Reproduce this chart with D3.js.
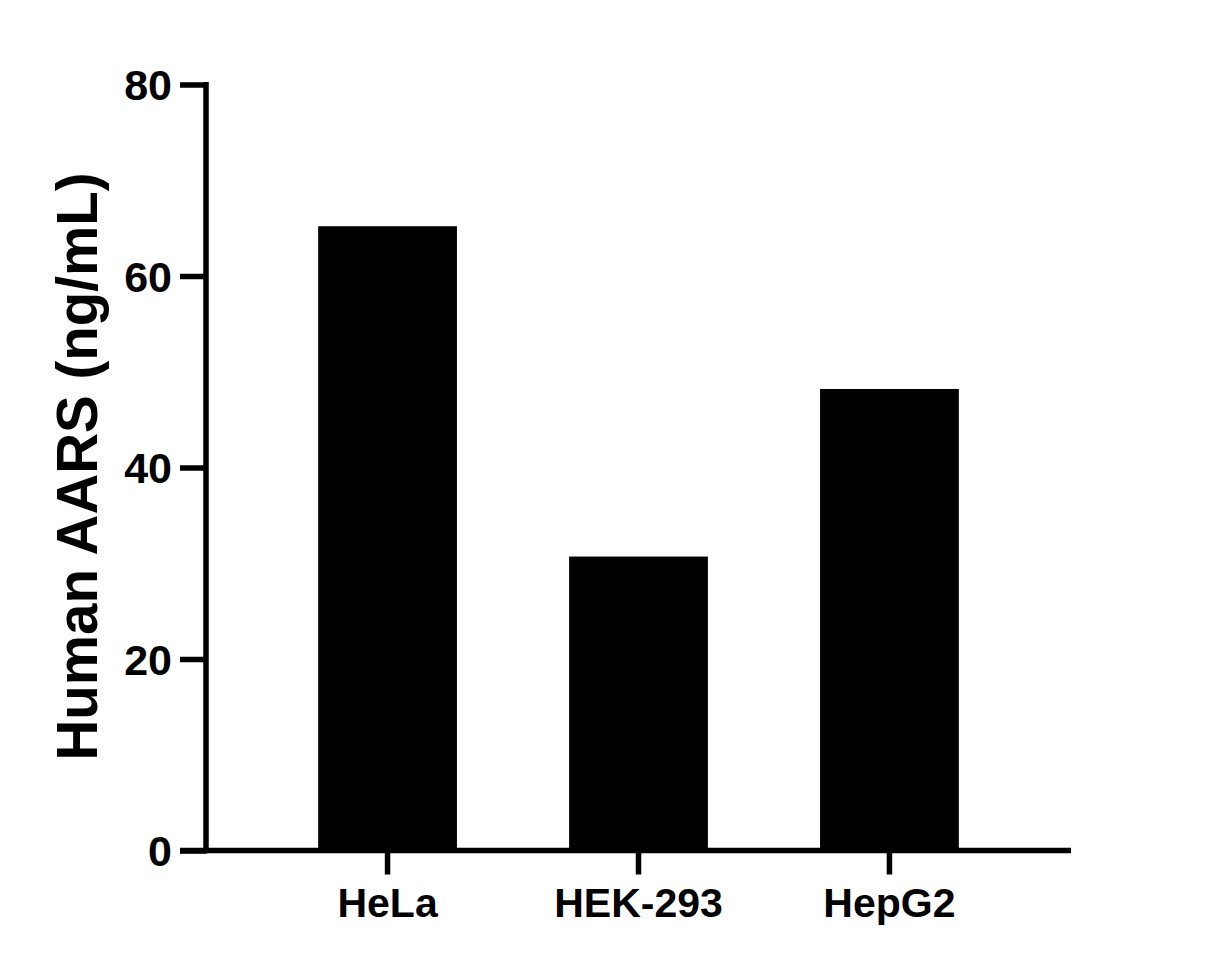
<!DOCTYPE html>
<html>
<head>
<meta charset="utf-8">
<script src="https://cdn.jsdelivr.net/npm/d3@7"></script>
<style>
  body { margin: 0; background: #fff; }
  text { font-family: Arial, "Liberation Sans", sans-serif; font-weight: bold; fill: #000; }
</style>
</head>
<body>
<div id="chart"></div>
<script>
'use strict';

var categories = ['HeLa', 'HEK-293', 'HepG2'];
var values = [65.2, 30.7, 48.2];
var yTicks = [0, 20, 40, 60, 80];

var width = 1208, height = 968;
var plotLeft = 206, plotRight = 1071, plotTop = 84.5, plotBottom = 850.5;

var svg = d3.select('#chart').append('svg')
    .attr('width', width)
    .attr('height', height);

var x = d3.scaleBand()
    .domain(categories)
    .range([plotLeft, plotRight])
    .padding(0.447);

var y = d3.scaleLinear()
    .domain([0, 80])
    .range([plotBottom, plotTop]);

//bars
svg.append('g')
    .selectAll('rect')
    .data(values)
    .enter().append('rect')
    .attr('x', (d, i) => x(categories[i]))
    .attr('y', (d) => y(d))
    .attr('width', x.bandwidth())
    .attr('height', (d) => y(0) - y(d))
    .attr('fill', '#000');

//y axis
var yAxis = svg.append('g')
    .attr('transform', 'translate(' + plotLeft + ',0)')
    .call(d3.axisLeft(y).tickValues(yTicks).tickSize(26).tickPadding(8).tickSizeOuter(0));
yAxis.select('.domain').attr('stroke', '#000').attr('stroke-width', 5.5)
    .attr('d', 'M0,' + (plotTop - 2.5) + 'V' + (plotBottom + 2.75));
yAxis.selectAll('.tick line').attr('stroke', '#000').attr('stroke-width', 5.5);
yAxis.selectAll('.tick text')
    .attr('font-size', '43px')
    .attr('dy', '0.35em')
    .attr('font-family', 'Arial, "Liberation Sans", sans-serif')
    .attr('font-weight', 'bold');

//x axis
var xAxis = svg.append('g')
    .attr('transform', 'translate(0,' + plotBottom + ')')
    .call(d3.axisBottom(x).tickSize(24).tickPadding(13).tickSizeOuter(0));
xAxis.select('.domain').attr('stroke', '#000').attr('stroke-width', 5.5)
    .attr('d', 'M' + (plotLeft - 26) + ',0H' + plotRight);
xAxis.selectAll('.tick line').attr('stroke', '#000').attr('stroke-width', 5.5);
xAxis.selectAll('.tick text')
    .attr('font-size', '41px')
    .attr('font-family', 'Arial, "Liberation Sans", sans-serif')
    .attr('font-weight', 'bold');

//y title
svg.append('text')
    .attr('transform', 'translate(97,' + ((plotTop + plotBottom) / 2 - 1) + ') rotate(-90)')
    .attr('text-anchor', 'middle')
    .attr('font-size', '56.5px')
    .text('Human AARS (ng/mL)');
</script>
</body>
</html>
